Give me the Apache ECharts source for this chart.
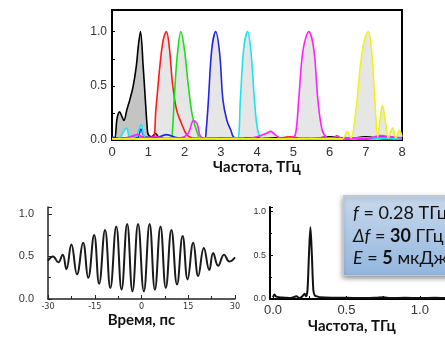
<!DOCTYPE html>
<html><head><meta charset="utf-8">
<script src="https://cdn.jsdelivr.net/npm/echarts@6/dist/echarts.min.js"></script>
<style>html,body{margin:0;padding:0;background:#fff}#c{width:445px;height:337px}</style>
</head><body><div id="c"></div>
<script>
// ---- Top panel: spectra (THz, normalized amplitude) ----
const topBlack = [[0,0.02],[0.07,0.01],[0.14,0.2],[0.21,0.26],[0.27,0.22],[0.33,0.18],[0.41,0.28],[0.49,0.37],[0.58,0.49],[0.67,0.68],[0.73,0.88],[0.785,1.0],[0.86,0.68],[0.92,0.37],[0.97,0.12],[1.0,0.05],[1.1,0.03],[1.2,0.06],[1.3,0.02],[1.5,0.01],[1.8,0.02],[2.1,0.01],[2.5,0.02],[3.0,0.01],[3.5,0.02],[4.0,0.01],[4.5,0.02],[5.0,0.01],[5.5,0.01],[6.0,0.03],[6.5,0.01],[7.0,0.03],[7.5,0.01],[8.0,0.02]];
const topRed = [[0,0.01],[0.3,0.02],[0.6,0.01],[0.9,0.03],[1.12,0.01],[1.21,0.28],[1.32,0.68],[1.41,0.92],[1.5,1.0],[1.58,0.86],[1.67,0.52],[1.78,0.28],[1.92,0.15],[2.06,0.05],[2.2,0.02],[2.6,0.01],[3.0,0.02],[3.5,0.01],[4.0,0.02],[4.5,0.01],[4.9,0.03],[5.3,0.01],[6.0,0.01],[7.0,0.02],[8.0,0.01]];
const topGreen = [[0,0.02],[0.4,0.01],[0.8,0.02],[1.2,0.01],[1.62,0.01],[1.67,0.1],[1.72,0.4],[1.8,0.78],[1.9,1.0],[2.0,0.83],[2.11,0.49],[2.22,0.22],[2.36,0.06],[2.45,0.01],[3.0,0.01],[3.6,0.02],[4.2,0.01],[5.0,0.01],[6.0,0.02],[7.0,0.01],[8.0,0.02]];
const topBlue = [[0,0.03],[0.3,0.01],[0.55,0.03],[0.7,0.02],[0.8,0.1],[0.9,0.03],[1.2,0.02],[1.5,0.05],[1.8,0.02],[2.2,0.01],[2.55,0.01],[2.6,0.1],[2.66,0.37],[2.75,0.83],[2.86,1.0],[2.97,0.8],[3.06,0.37],[3.17,0.18],[3.28,0.09],[3.35,0.03],[3.5,0.01],[3.9,0.02],[4.5,0.01],[5.0,0.01],[5.5,0.02],[6.0,0.01],[6.5,0.02],[7.0,0.01],[7.5,0.03],[8.0,0.01]];
const topCyan = [[0,0.01],[0.2,0.02],[0.4,0.11],[0.5,0.02],[0.65,0.03],[0.81,0.14],[0.9,0.03],[1.2,0.01],[1.6,0.02],[2.0,0.01],[2.5,0.02],[3.0,0.01],[3.3,0.02],[3.46,0.02],[3.54,0.37],[3.63,0.83],[3.74,1.0],[3.83,0.83],[3.93,0.37],[4.02,0.09],[4.14,0.02],[4.5,0.01],[5.0,0.01],[5.5,0.02],[6.0,0.01],[7.0,0.02],[8.0,0.01]];
const topMagenta = [[0,0.01],[0.4,0.02],[0.7,0.05],[0.9,0.02],[1.2,0.03],[1.5,0.01],[1.9,0.02],[2.1,0.06],[2.25,0.18],[2.35,0.15],[2.45,0.03],[2.7,0.01],[3.2,0.02],[3.6,0.01],[4.0,0.03],[4.25,0.06],[4.38,0.08],[4.5,0.05],[4.7,0.01],[4.95,0.02],[5.06,0.05],[5.15,0.37],[5.27,0.83],[5.43,1.0],[5.57,0.83],[5.68,0.37],[5.8,0.09],[5.94,0.02],[6.1,0.01],[6.2,0.04],[6.35,0.01],[6.6,0.02],[7.0,0.01],[7.4,0.04],[7.7,0.03],[8.0,0.02]];
const topYellow = [[0,0.01],[1,0.01],[2,0.01],[3,0.01],[4,0.01],[5,0.01],[6,0.01],[6.35,0.01],[6.49,0.08],[6.59,0.02],[6.73,0.28],[6.85,0.68],[6.96,0.92],[7.07,1.0],[7.16,0.83],[7.25,0.37],[7.33,0.03],[7.39,0.18],[7.46,0.32],[7.55,0.15],[7.62,0.02],[7.74,0.11],[7.83,0.02],[7.93,0.09],[8.0,0.03]];
const topXTicks = [0,1,2,3,4,5,6,7,8];
const topYTicks = [0,0.5,1.0];

// ---- Bottom-left: time-domain waveform (ps, a.u.) ----
const waveT = [-30,-28.4,-26.7,-25.3,-24.1,-22.5,-20.7,-18.75,-17.1,-15.2,-13.6,-11.7,-10.0,-8.1,-6.4,-4.6,-2.9,-1.1,0.75,2.6,4.3,6.1,7.8,9.6,11.4,13.2,14.8,16.6,18.2,20.0,21.75,23.0,24.6,26.5,28.2,30.0];
const waveV = [0.45,0.50,0.43,0.52,0.35,0.64,0.29,0.66,0.25,0.75,0.18,0.81,0.13,0.85,0.11,0.88,0.09,0.88,0.09,0.88,0.11,0.85,0.13,0.81,0.17,0.74,0.23,0.66,0.27,0.60,0.34,0.54,0.39,0.52,0.44,0.49];
const waveXTicks = [-30,-15,0,15,30];

// ---- Bottom-right: spectrum of single pulse (THz) ----
const specF = [0,0.01,0.02,0.04,0.08,0.12,0.16,0.18,0.2,0.215,0.225,0.235,0.245,0.255,0.265,0.275,0.285,0.3,0.32,0.4,0.5,0.6,0.7,0.75,0.8,0.9,1.0,1.1,1.2,1.3];
const specA = [0.02,0.05,0.03,0.02,0.015,0.01,0.03,0.01,0.03,0.06,0.03,0.1,0.5,0.82,0.5,0.1,0.04,0.03,0.02,0.015,0.015,0.01,0.015,0.02,0.01,0.015,0.01,0.015,0.01,0.01];
const specXTicks = [0,0.5,1.0];
const specYTicks = [0,0.5,1.0];

// ---- Info box text ----
const infoF = '0.28';
const infoDf = '30';
const infoE = '5';

const chart = echarts.init(document.getElementById('c'), null, {renderer:'canvas'});
const topSeries = [
  {data: topBlack, color:'#000000', fill:'#c4c4c4'},
  {data: topRed, color:'#ff1a1a', fill:'#e6e6e6'},
  {data: topGreen, color:'#19e019', fill:'#e6e6e6'},
  {data: topBlue, color:'#2424e6', fill:'#e6e6e6'},
  {data: topCyan, color:'#19e6ee', fill:'#e6e6e6'},
  {data: topMagenta, color:'#ff22ff', fill:'#e6e6e6'},
  {data: topYellow, color:'#f2f21a', fill:'#e6e6e6'}
];
const series = [];
topSeries.forEach((s)=>{
  series.push({type:'line', xAxisIndex:0, yAxisIndex:0, data:s.data, smooth:0.35, symbol:'none', z:1,
    lineStyle:{width:0, color:s.fill}, areaStyle:{color:s.fill, opacity:1}, silent:true});
});
topSeries.forEach((s)=>{
  series.push({type:'line', xAxisIndex:0, yAxisIndex:0, data:s.data, smooth:0.35, symbol:'none', z:3,
    lineStyle:{width:1.6, color:s.color}});
});
series.push({type:'line', xAxisIndex:1, yAxisIndex:1, data:waveT.map((t,i)=>[t,waveV[i]]), smooth:0.45, symbol:'none',
  lineStyle:{width:2, color:'#1a1a1a'}});
series.push({type:'line', xAxisIndex:2, yAxisIndex:2, data:specF.map((f,i)=>[f,specA[i]]), smooth:0.3, symbol:'none',
  lineStyle:{width:2, color:'#111'}});

const lab = {fontFamily:'Liberation Sans, Arial, sans-serif', color:'#333'};
const titleStyle = {fontFamily:'Lato, Open Sans, sans-serif', fontWeight:'bold', fontSize:15, color:'#111'};

chart.setOption({
  animation:false,
  backgroundColor:'#fff',
  grid:[
    {left:112, top:10, width:290, height:130, show:true, borderColor:'#000', borderWidth:2, backgroundColor:'transparent', outerBoundsMode:'none', containLabel:false},
    {left:48, top:207, width:187, height:92, outerBoundsMode:'none', containLabel:false},
    {left:270, top:207, width:194, height:92, outerBoundsMode:'none', containLabel:false}
  ],
  xAxis:[
    {gridIndex:0, type:'value', min:0, max:8, interval:1,
      axisLine:{lineStyle:{color:'#000', width:1.5}}, axisTick:{show:false}, splitLine:{show:false},
      axisLabel:Object.assign({fontSize:13, margin:6, formatter:v=>topXTicks.includes(v)?String(v):''}, lab),
      name:'Частота, ТГц', nameLocation:'middle', nameGap:20, nameTextStyle:titleStyle},
    {gridIndex:1, type:'value', min:-30, max:30, interval:15,
      axisLine:{onZero:false, lineStyle:{color:'#222', width:1.5}}, axisTick:{inside:true, length:4, lineStyle:{color:'#222'}},
      minorTick:{show:true, splitNumber:2, length:3, lineStyle:{color:'#222'}}, splitLine:{show:false},
      axisLabel:{fontSize:9, margin:3, color:'#333', fontFamily:'Liberation Sans Narrow, DejaVu Sans Condensed, sans-serif', formatter:v=>waveXTicks.includes(v)?String(v):''},
      name:'Время, пс', nameLocation:'middle', nameGap:14, nameTextStyle:titleStyle},
    {gridIndex:2, type:'value', min:-0.02, max:1.3,
      axisLine:{onZero:false, lineStyle:{color:'#000', width:2}},
      axisTick:{inside:true, length:3, lineStyle:{color:'#000'}, customValues:[0,0.25,0.5,0.75,1.0,1.25]},
      splitLine:{show:false},
      axisLabel:Object.assign({fontSize:13, margin:5, customValues:specXTicks, formatter:v=>v.toFixed(1)}, lab)}
  ],
  yAxis:[
    {gridIndex:0, type:'value', min:0, max:1.2, interval:0.5,
      axisLine:{show:true, lineStyle:{color:'#000', width:1.5}}, axisTick:{show:true, inside:true, length:3, lineStyle:{color:'#000'}},
      minorTick:{show:true, splitNumber:2, length:3, lineStyle:{color:'#000'}},
      splitLine:{show:false},
      axisLabel:Object.assign({fontSize:12, margin:5, formatter:v=>topYTicks.includes(v)?v.toFixed(1):''}, lab)},
    {gridIndex:1, type:'value', min:0, max:1.08, interval:0.5,
      axisLine:{show:true, onZero:false, lineStyle:{color:'#222', width:1.5}}, axisTick:{show:true, inside:true, length:4, lineStyle:{color:'#222'}},
      minorTick:{show:true, splitNumber:2, length:3, lineStyle:{color:'#222'}},
      splitLine:{show:false},
      axisLabel:Object.assign({fontSize:11, margin:14, formatter:v=>(v===0||v===0.5||v===1)?v.toFixed(1):''}, lab)},
    {gridIndex:2, type:'value', min:0, max:1.05, interval:0.5,
      axisLine:{show:true, onZero:false, lineStyle:{color:'#000', width:2}}, axisTick:{show:true, inside:true, length:3, lineStyle:{color:'#000'}},
      minorTick:{show:true, splitNumber:2, length:2, lineStyle:{color:'#000'}},
      splitLine:{show:false},
      axisLabel:Object.assign({fontSize:9, margin:4, formatter:v=>specYTicks.includes(v)?v.toFixed(1):''}, lab)}
  ],
  series: series,
  graphic:[
    {type:'text', left:308, top:319, z:50,
      style:{text:'Частота, ТГц', fontFamily:'Lato, Open Sans, sans-serif', fontWeight:'bold', fontSize:15, fill:'#111'}},
    {type:'rect', left:343, top:195, z:100,
      shape:{width:112, height:80},
      style:{fill:new echarts.graphic.LinearGradient(0,0,0,1,[{offset:0,color:'#c9d9ec'},{offset:1,color:'#93b6de'}]),
        stroke:'#b3cbe6', lineWidth:1, shadowBlur:5, shadowColor:'rgba(0,0,0,0.45)', shadowOffsetX:-1, shadowOffsetY:2}},
    {type:'text', left:353, top:202, z:101,
      style:{text:'{i|f} = '+infoF+' ТГц\n{i|Δf} = {b|'+infoDf+'} ГГц\n{i|E} = {b|'+infoE+'} мкДж',
        fontFamily:'Lato, Open Sans, sans-serif', fontSize:18, lineHeight:22.5, fill:'#111',
        rich:{i:{fontStyle:'italic', fontSize:18, fontFamily:'Lato, Open Sans, sans-serif', lineHeight:22.5},
              b:{fontWeight:'bold', fontSize:18, fontFamily:'Lato, Open Sans, sans-serif', lineHeight:22.5}}}}
  ]
});
</script></body></html>
